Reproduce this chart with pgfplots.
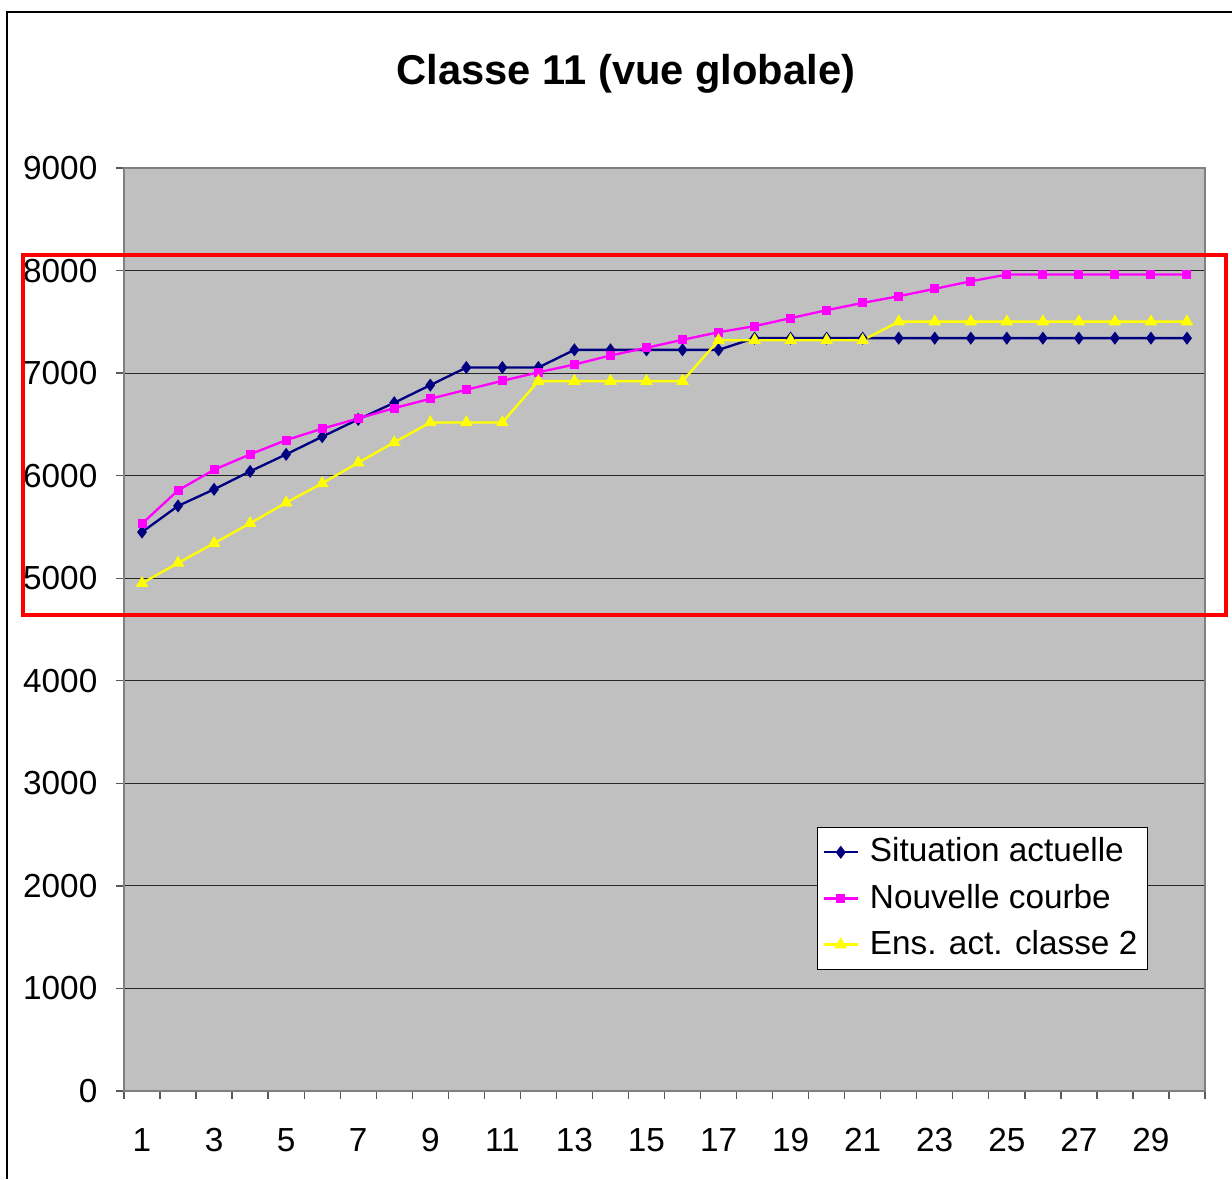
\documentclass[border=0pt]{standalone}
\usepackage{pgfplots}
\pgfplotsset{compat=1.18}
\usepackage{fontspec}
\setmainfont{Liberation Sans}
\definecolor{plotgray}{HTML}{C0C0C0}
\definecolor{bordergray}{HTML}{808080}
\definecolor{navyb}{HTML}{000080}
\definecolor{magp}{HTML}{FF00FF}
\definecolor{yelp}{HTML}{FFFF00}
\begin{document}
\begin{tikzpicture}
\useasboundingbox (0,0) rectangle (369.6pt,-353.7pt);
% outer chart frame
\draw[black, line width=0.6pt] (7*0.3pt,-1179*0.3pt) -- (7*0.3pt,-12*0.3pt) -- (1232*0.3pt,-12*0.3pt);
\node[anchor=base, font=\fontsize{12.5}{15}\selectfont\bfseries] at (626*0.3pt,-84*0.3pt) {Classe 11 (vue globale)};
\begin{axis}[
  at={(37.2pt,-327.3pt)}, anchor=south west,
  scale only axis, width=324.3pt, height=276.9pt,
  xmin=0.5, xmax=30.5, ymin=0, ymax=9000,
  axis background/.style={fill=plotgray},
  axis line style={bordergray, line width=0.4pt},
  /pgf/number format/assume math mode=true,
  ticklabel style={font=\fontsize{10}{12}\selectfont},
  xtick={1,3,...,29},
  major x tick style={draw=none},
  minor xtick={0.5,1.5,...,30.5},
  minor x tick style={bordergray!70!black, line width=0.4pt},
  ytick={0,1000,...,9000},
  yticklabel style={/pgf/number format/1000 sep={}},
  y tick style={bordergray!70!black, line width=0.4pt},
  xtick pos=bottom, ytick pos=left,
  tick align=outside,
  major tick length=2.4pt, minor tick length=2.4pt,
  ymajorgrids, grid style={black!85, line width=0.3pt},
  xticklabel style={anchor=north, inner sep=0pt, yshift=-8.7pt},
  yticklabel style={anchor=east, inner sep=0pt, xshift=-5.4pt},
  legend style={at={(0.641,0.286)}, anchor=north west, draw=black, fill=white, line width=0.4pt,
    font=\fontsize{10}{12}\selectfont, inner xsep=1.5pt, inner ysep=1.5pt, row sep=2.1pt,
    nodes={inner sep=1.5pt},
    /tikz/every odd column/.append style={column sep=1.8pt}},
  legend cell align=left,
  legend image code/.code={\draw[#1] (0pt,0pt) -- (5.1pt,0pt) -- (10.2pt,0pt); \path[#1, mark repeat=2, mark phase=2] plot coordinates {(0pt,0pt) (5.1pt,0pt) (10.2pt,0pt)};},
  clip=false,
]
\addplot[navyb, line width=0.7pt, mark=diamond*, mark size=1.4pt, mark options={fill=navyb, draw=navyb}] coordinates {
(1,5450) (2,5705) (3,5867) (4,6042) (5,6208) (6,6380) (7,6549) (8,6711) (9,6883) (10,7055)
(11,7055) (12,7055) (13,7227) (14,7227) (15,7227) (16,7227) (17,7227) (18,7341) (19,7341) (20,7341)
(21,7341) (22,7341) (23,7341) (24,7341) (25,7341) (26,7341) (27,7341) (28,7341) (29,7341) (30,7341)};
\addlegendentry{Situation actuelle}
\addplot[magp, line width=0.7pt, mark=square*, mark size=1.0pt, mark options={fill=magp, draw=magp}] coordinates {
(1,5532) (2,5857) (3,6058) (4,6208) (5,6347) (6,6458) (7,6558) (8,6659) (9,6750) (10,6838)
(11,6925) (12,7008) (13,7084) (14,7172) (15,7247) (16,7325) (17,7399) (18,7458) (19,7536) (20,7614)
(21,7685) (22,7750) (23,7822) (24,7896) (25,7961) (26,7961) (27,7961) (28,7961) (29,7961) (30,7961)};
\addlegendentry{Nouvelle courbe}
\addplot[yelp, line width=0.7pt, mark=triangle*, mark size=1.5pt, mark options={fill=yelp, draw=yelp}] coordinates {
(1,4951) (2,5149) (3,5341) (4,5536) (5,5737) (6,5925) (7,6127) (8,6325) (9,6519) (10,6519)
(11,6519) (12,6922) (13,6922) (14,6922) (15,6922) (16,6922) (17,7320) (18,7320) (19,7320) (20,7320)
(21,7320) (22,7502) (23,7502) (24,7502) (25,7502) (26,7502) (27,7502) (28,7502) (29,7502) (30,7502)};
\addlegendentry{Ens. act. classe 2}
\end{axis}
% red highlight rectangle
\draw[red, line width=1.1pt] (23*0.3pt,-255*0.3pt) rectangle (1226*0.3pt,-615*0.3pt);
\end{tikzpicture}
\end{document}
